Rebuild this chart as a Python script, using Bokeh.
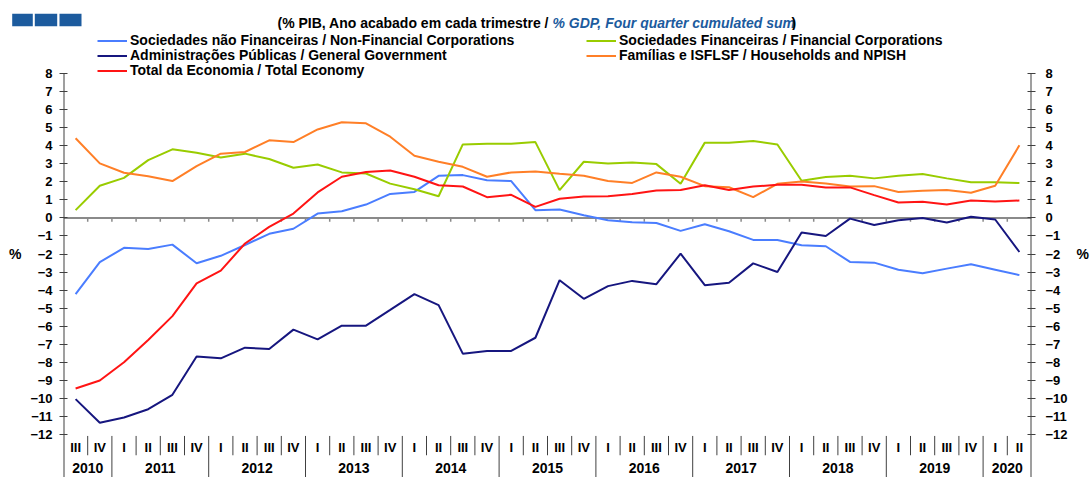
from bokeh.plotting import figure
from bokeh.layouts import column
from bokeh.models import (FactorRange, Range1d, LinearAxis, FixedTicker, Span,
                          Legend, LegendItem, ColumnDataSource)
from bokeh.embed import file_html
from bokeh.resources import INLINE
from bokeh.core.properties import value

# ---------------- data ----------------
years = ["2010", "2011", "2012", "2013", "2014", "2015", "2016", "2017", "2018", "2019", "2020"]
quarters = ["I", "II", "III", "IV"]
first_period = ("2010", "III")
last_period = ("2020", "II")

all_periods = [(y, q) for y in years for q in quarters]
periods = all_periods[all_periods.index(first_period): all_periods.index(last_period) + 1]

nfc = [-4.22, -2.45, -1.66, -1.72, -1.48, -2.51, -2.10, -1.50, -0.88, -0.60,
       0.24, 0.37, 0.74, 1.33, 1.44, 2.33, 2.37, 2.09, 2.04, 0.43,
       0.46, 0.15, -0.13, -0.24, -0.28, -0.72, -0.35, -0.74, -1.22, -1.22,
       -1.52, -1.57, -2.44, -2.48, -2.87, -3.07, -2.81, -2.57, -2.87, -3.17]
fin = [0.43, 1.78, 2.22, 3.20, 3.80, 3.61, 3.35, 3.56, 3.26, 2.78,
       2.96, 2.52, 2.46, 1.90, 1.59, 1.20, 4.07, 4.11, 4.11, 4.20,
       1.54, 3.11, 3.02, 3.07, 2.98, 1.89, 4.17, 4.17, 4.26, 4.07,
       2.06, 2.26, 2.33, 2.19, 2.33, 2.43, 2.19, 1.98, 1.98, 1.93]
gov = [-10.04, -11.35, -11.06, -10.60, -9.80, -7.68, -7.78, -7.19, -7.26, -6.19,
       -6.73, -5.97, -5.97, -5.10, -4.22, -4.83, -7.52, -7.37, -7.37, -6.64,
       -3.45, -4.48, -3.78, -3.49, -3.67, -1.98, -3.73, -3.59, -2.52, -3.00,
       -0.81, -1.00, -0.04, -0.39, -0.13, 0.00, -0.26, 0.06, -0.09, -1.89]
hh = [4.41, 3.02, 2.50, 2.31, 2.04, 2.87, 3.56, 3.65, 4.30, 4.20,
      4.90, 5.30, 5.24, 4.50, 3.44, 3.11, 2.83, 2.28, 2.52, 2.57,
      2.44, 2.33, 2.04, 1.94, 2.52, 2.28, 1.76, 1.70, 1.15, 1.89,
      2.02, 1.91, 1.74, 1.76, 1.44, 1.50, 1.54, 1.39, 1.78, 4.02]
total = [-9.45, -9.01, -8.00, -6.76, -5.44, -3.63, -2.92, -1.42, -0.50, 0.24,
         1.41, 2.28, 2.54, 2.63, 2.28, 1.81, 1.74, 1.15, 1.28, 0.61,
         1.06, 1.19, 1.20, 1.33, 1.52, 1.54, 1.81, 1.54, 1.74, 1.83,
         1.83, 1.69, 1.69, 1.26, 0.85, 0.89, 0.74, 0.96, 0.91, 0.96]

series_names = {
    "nfc": "Sociedades não Financeiras / Non-Financial Corporations",
    "fin": "Sociedades Financeiras / Financial Corporations",
    "gov": "Administrações Públicas / General Government",
    "hh": "Famílias e ISFLSF / Households and NPISH",
    "total": "Total da Economia / Total Economy",
}
y_ticks = list(range(-12, 9))
y_unit = "%"
subtitle_black = "(% PIB, Ano acabado em cada trimestre /"
subtitle_blue = "% GDP, Four quarter cumulated sum"
subtitle_end = ")"

# ---------------- style / layout ----------------
FONT = "Liberation Sans"
C = {"nfc": "#4a7dff", "fin": "#99cc00", "gov": "#16167f", "hh": "#ff7f27", "total": "#ff1414"}
AX = "#404040"
LOGO = "#1c5b9e"

W = 1092
HEAD_H = 30                 # header strip (logo + subtitle)
MAIN_H = 477 - HEAD_H       # main chart
FRAME_L, FRAME_R = 63, 1040
PX_PER_UNIT = 18.05         # pixels per 1 percentage point
Y8_PAGE = 73                # page y of the "8" tick
y_top = 8 + (Y8_PAGE - HEAD_H) / PX_PER_UNIT
y_bottom = 8 - (477 - Y8_PAGE) / PX_PER_UNIT

# ---------------- header figure ----------------
head = figure(width=W, height=HEAD_H, x_range=Range1d(0, W), y_range=Range1d(HEAD_H, 0),
              x_axis_location=None, y_axis_location=None,
              output_backend="svg", toolbar_location=None,
              min_border_left=0, min_border_right=0, min_border_top=0, min_border_bottom=0)
head.frame_align = False
head.xgrid.visible = False
head.ygrid.visible = False
head.outline_line_color = None
head.quad(left=[11.7, 34.3, 59.0], right=[32.3, 56.7, 81.0], top=[13.3] * 3, bottom=[25.7] * 3,
          fill_color=LOGO, line_color=None)
head.text(x=[548.5], y=[22], text=[subtitle_black], text_font=value(FONT), text_font_style="bold",
          text_font_size="14px", text_align="right", text_baseline="middle", text_color="black")
head.text(x=[552], y=[22], text=[subtitle_blue], text_font=value(FONT), text_font_style="bold italic",
          text_font_size="14px", text_align="left", text_baseline="middle", text_color=LOGO)
head.text(x=[791], y=[22], text=[subtitle_end], text_font=value(FONT), text_font_style="bold",
          text_font_size="14px", text_align="left", text_baseline="middle", text_color="black")

# ---------------- main figure ----------------
p = figure(width=W, height=MAIN_H,
           x_range=FactorRange(*periods, group_padding=0, factor_padding=0,
                               subgroup_padding=0, range_padding=0),
           y_range=Range1d(y_bottom, y_top),
           x_axis_location=None, output_backend="svg", toolbar_location=None,
           min_border_left=FRAME_L, min_border_right=W - FRAME_R,
           min_border_top=0, min_border_bottom=0)
p.frame_align = False
p.xgrid.visible = False
p.ygrid.visible = False
p.outline_line_color = None

right_axis = LinearAxis()
p.add_layout(right_axis, "right")
for ax, standoff in [(p.yaxis[0], 7), (right_axis, 10)]:
    ax.ticker = FixedTicker(ticks=y_ticks)
    ax.major_tick_in = 4
    ax.major_tick_out = 4
    ax.minor_tick_line_color = None
    ax.axis_line_color = None
    ax.major_tick_line_color = AX
    ax.major_label_standoff = standoff
    ax.major_label_text_font = FONT
    ax.major_label_text_font_style = "bold"
    ax.major_label_text_font_size = "13px"
    ax.major_label_text_color = "black"
    ax.axis_label = y_unit
    ax.axis_label_orientation = "horizontal"
    ax.axis_label_standoff = 6
    ax.axis_label_text_font = FONT
    ax.axis_label_text_font_style = "bold"
    ax.axis_label_text_font_size = "14px"
    ax.axis_label_text_color = "black"

# vertical axis lines (extend through the category label zone)
edges = [periods[0] + (-0.5,), periods[-1] + (0.5,)]
p.segment(x0=edges, y0=[y_bottom] * 2, x1=edges, y1=[8] * 2, line_color=AX, line_width=2)

# zero line with category ticks
p.add_layout(Span(location=0, dimension="width", line_color="#8a8a8a", line_width=2, level="underlay"))
bounds = [(y, q, -0.5) for (y, q) in periods[1:]]
p.segment(x0=bounds, y0=[0] * len(bounds), x1=bounds, y1=[-0.22] * len(bounds),
          line_color="#8a8a8a", line_width=1.5)

# category label zone: separators + labels
q_sep = [(y, q, -0.5) for (y, q) in periods[1:] if q != "I"]
y_sep = [(y, q, -0.5) for (y, q) in periods[1:] if q == "I"]
p.segment(x0=q_sep, y0=[-12.08] * len(q_sep), x1=q_sep, y1=[-13.15] * len(q_sep),
          line_color=AX, line_width=1)
p.segment(x0=y_sep, y0=[-12.08] * len(y_sep), x1=y_sep, y1=[y_bottom] * len(y_sep),
          line_color=AX, line_width=1)
p.text(x=periods, y=[-12.72] * len(periods), text=[q for (_, q) in periods],
       text_font=value(FONT), text_font_style="bold", text_font_size="13px",
       text_align="center", text_baseline="middle", text_color="black")
p.text(x=years, y=[-13.85] * len(years), text=years,
       text_font=value(FONT), text_font_style="bold", text_font_size="14px",
       text_align="center", text_baseline="middle", text_color="black")

# series
src = ColumnDataSource(dict(x=periods, nfc=nfc, fin=fin, gov=gov, hh=hh, total=total))
r = {}
for key in ["nfc", "fin", "hh", "gov", "total"]:
    r[key] = p.line(x="x", y=key, source=src, line_color=C[key], line_width=2)

ROW_H = 17


def make_legend(key, x_page, y_center_page):
    lg = Legend(items=[LegendItem(label=series_names[key], renderers=[r[key]])],
                location=(x_page - FRAME_L, 477 - (y_center_page + ROW_H / 2)),
                orientation="vertical",
                glyph_width=30, glyph_height=ROW_H, label_height=ROW_H, spacing=0,
                padding=0, margin=0, label_standoff=3,
                label_text_font=FONT, label_text_font_style="bold",
                label_text_font_size="14px", label_text_color="black",
                border_line_color=None, background_fill_alpha=0)
    p.add_layout(lg)


# legend rows: left column and right column
make_legend("nfc", 97, 40)
make_legend("gov", 97, 55)
make_legend("total", 97, 70)
make_legend("fin", 586, 40)
make_legend("hh", 586, 55)

open("out.html", "w").write(file_html(column(head, p, spacing=0), INLINE))
